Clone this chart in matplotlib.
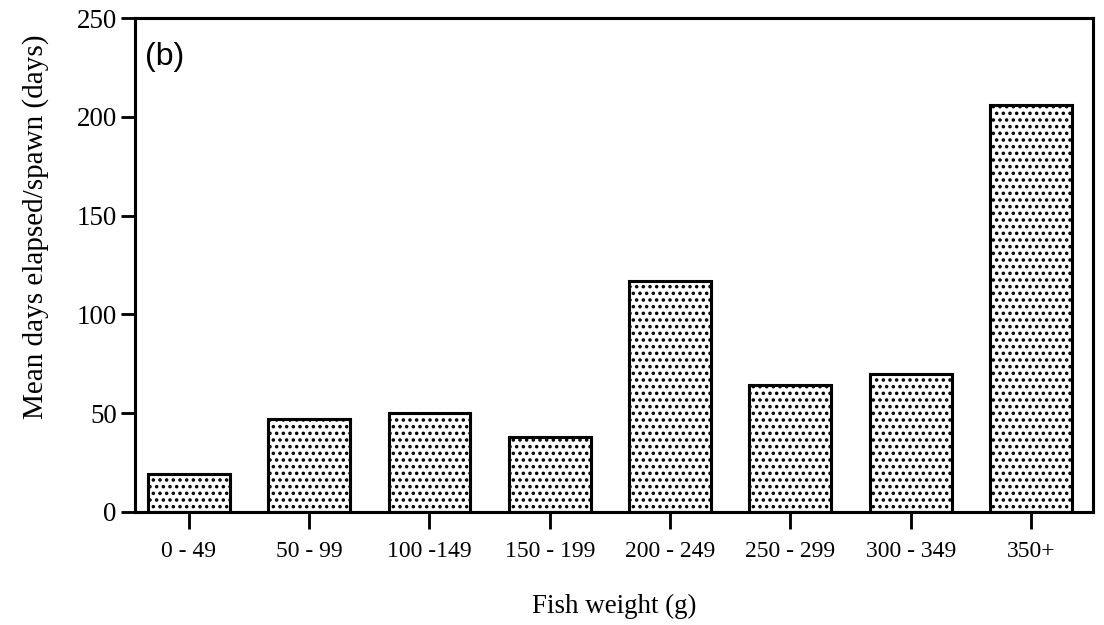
import matplotlib.pyplot as plt
import matplotlib as mpl

# weight classes and mean days between spawns
weight_classes = ["0 - 49", "50 - 99", "100 -149", "150 - 199",
                  "200 - 249", "250 - 299", "300 - 349", "350+"]
mean_days = [19, 47, 50, 38, 117, 64, 70, 206]
y_ticks = [0, 50, 100, 150, 200, 250]

# dpi 120 so the dot hatch comes out about as dense as the scanned screen
mpl.rcParams['hatch.linewidth'] = 1.3
mpl.rcParams['font.family'] = ['Liberation Serif', 'DejaVu Serif']

fig = plt.figure(figsize=(9.2, 6.25 / 1.2), dpi=120)
ax = fig.add_axes([0.122, 0.181, 0.868, 0.790])

x = range(len(weight_classes))
ax.bar(x, mean_days, width=0.68, facecolor='white', edgecolor='black',
       linewidth=1.85, hatch='...')

ax.set_xlim(-0.45, 7.515)
ax.set_ylim(0, 250)
ax.set_yticks(y_ticks)
ax.set_xticks(list(x))
ax.set_xticklabels(weight_classes)

for side in ['left', 'right', 'top', 'bottom']:
    ax.spines[side].set_linewidth(1.85)
ax.tick_params(axis='y', direction='out', length=8.3, width=1.7, labelsize=16.2, pad=2.5)
ax.tick_params(axis='x', direction='out', length=10, width=1.7, labelsize=14.2, pad=7.5)

ax.set_ylabel("Mean days elapsed/spawn (days)", fontsize=17.5)
ax.yaxis.set_label_coords(-0.089, 0.577)
ax.set_xlabel("Fish weight (g)", fontsize=16.2, labelpad=19)

ax.text(0.011, 0.952, "(b)", transform=ax.transAxes, ha='left', va='top',
        fontsize=19.2, family=['Liberation Sans', 'DejaVu Sans'])

fig.savefig("out.png", dpi=120)
